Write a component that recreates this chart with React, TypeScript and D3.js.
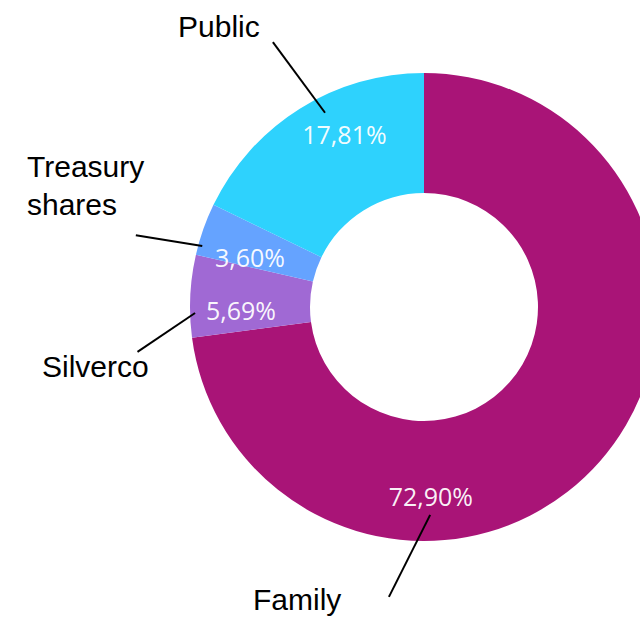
import React from "react";
import * as d3 from "d3";

const categories = ["Family", "Silverco", "Treasury shares", "Public"];
const shares = [72.9, 5.69, 3.6, 17.81];
const valueLabels = ["72,90%", "5,69%", "3,60%", "17,81%"];
const colors = ["#A91477", "#A069D4", "#65A3FF", "#2ED2FD"];

// layout (not data): angular nudge (deg) of value labels from the slice centroid, and radius
const labelNudge = [46.7, -3.6, -3.4, 7.3];
const labelRadius = [189, 183, 181, 190];
// leader lines: [innerAngleDeg, innerR, outerAngleDeg, outerR]
const leaders = [
  [178.3, 208, 186.9, 292],
  [268.5, 229, 261.1, 290],
  [285.4, 230, 284.0, 297],
  [333.0, 218, 330.3, 305],
];
// category label anchors relative to chart center (lines of text)
const nameAnchors = [
  { x: -171, y: 303, lines: ["Family"] },
  { x: -382, y: 70, lines: ["Silverco"] },
  { x: -397, y: -130, lines: ["Treasury", "shares"] },
  { x: -246, y: -270, lines: ["Public"] },
];

const W = 640;
const H = 617;
const cx = 424;
const cy = 307;
const outerR = 234;
const innerR = 114;

const polar = (deg: number, r: number) => {
  const a = (deg * Math.PI) / 180;
  return [r * Math.sin(a), -r * Math.cos(a)];
};

export default function App() {
  const pie = d3
    .pie<number>()
    .sort(null)
    .value((d) => d);
  const arcs = pie(shares);
  const arc = d3
    .arc<d3.PieArcDatum<number>>()
    .innerRadius(innerR)
    .outerRadius(outerR);

  return (
    <svg
      width={W}
      height={H}
      style={{ position: "fixed", left: 0, top: 0, background: "#fff" }}
    >
      <rect width={W} height={H} fill="#fff" />
      <g transform={`translate(${cx},${cy})`}>
        {arcs.map((a, i) => (
          <path key={categories[i]} d={arc(a) || ""} fill={colors[i]} />
        ))}
        {arcs.map((a, i) => {
          const mid = (((a.startAngle + a.endAngle) / 2) * 180) / Math.PI;
          const [x, y] = polar(mid + labelNudge[i], labelRadius[i]);
          return (
            <text
              key={"v" + i}
              x={x}
              y={y}
              textAnchor="middle"
              dominantBaseline="central"
              fill="#fff"
              fontFamily="'Open Sans', sans-serif"
              fontSize={25}
              fillOpacity={0.95}
            >
              {valueLabels[i]}
            </text>
          );
        })}
        {leaders.map((l, i) => {
          const [x1, y1] = polar(l[0], l[1]);
          const [x2, y2] = polar(l[2], l[3]);
          return (
            <line
              key={"l" + i}
              x1={x1}
              y1={y1}
              x2={x2}
              y2={y2}
              stroke="#000"
              strokeWidth={2}
            />
          );
        })}
        {nameAnchors.map((n, i) => (
          <text
            key={"n" + i}
            x={n.x}
            y={n.y}
            fill="#000"
            fontFamily="'Liberation Sans', Arial, sans-serif"
            fontSize={30}
          >
            {n.lines.map((t, j) => (
              <tspan key={j} x={n.x} dy={j === 0 ? 0 : 38}>
                {t}
              </tspan>
            ))}
          </text>
        ))}
      </g>
    </svg>
  );
}
